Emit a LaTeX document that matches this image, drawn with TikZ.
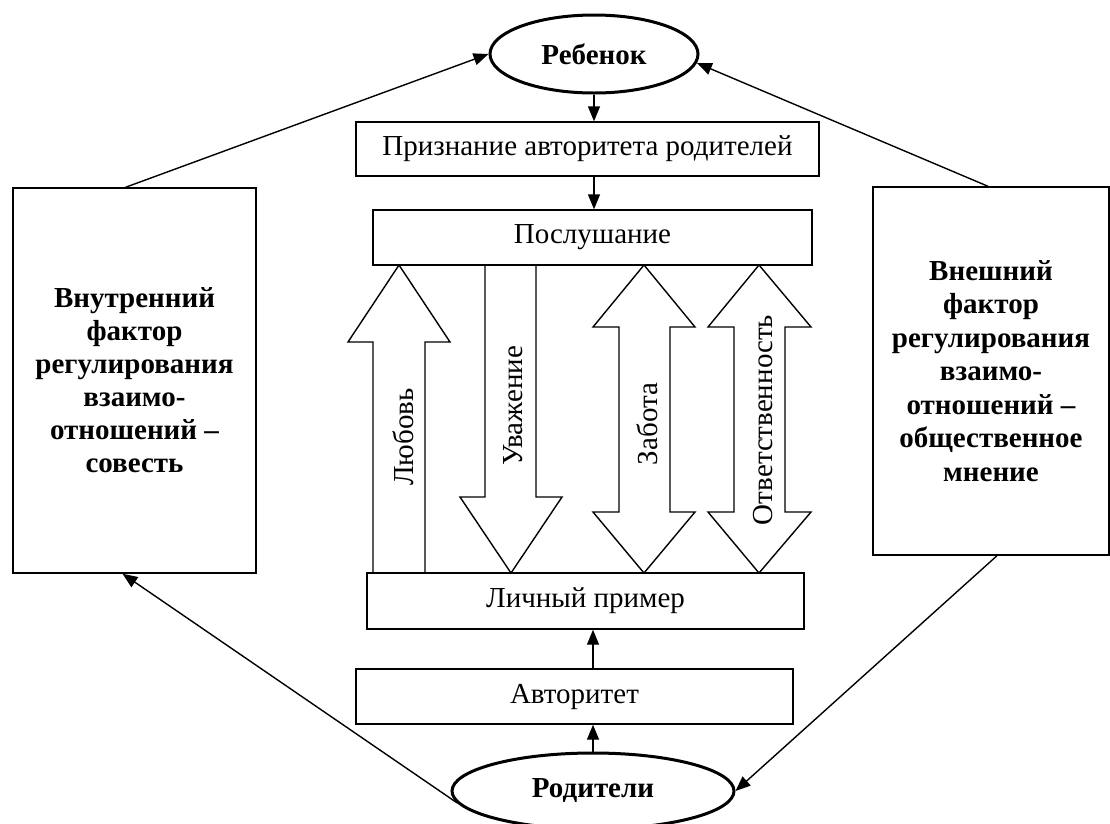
\documentclass[tikz,border=0pt]{standalone}
\usepackage{fontspec}
\setmainfont{Liberation Serif}
\usetikzlibrary{shapes.geometric,arrows.meta,calc}
\tikzset{
  boxn/.style={draw, line width=1.4pt, inner sep=0pt, font=\fontsize{29}{33}\selectfont},
  elln/.style={ellipse, draw, line width=3pt, inner sep=0pt, font=\fontsize{29}{33}\selectfont\bfseries},
  siden/.style={draw, line width=1.4pt, inner sep=0pt, align=center, font=\fontsize{29}{33}\selectfont\bfseries},
  conn/.style={-{Triangle[length=15pt,width=12pt]}, line width=1.4pt},
  bigar/.style={draw, line width=1.4pt, fill=white, line join=miter},
  biglabel/.style={rotate=90, inner sep=0pt, font=\fontsize{29}{33}\selectfont}
}
\begin{document}
\begin{tikzpicture}[x=1pt,y=-1pt]
\useasboundingbox (0,0) rectangle (1110,823);
% big arrows (drawn first so box borders lie on top)
\draw[bigar] (373,573) -- (373,342) -- (348,342) -- (399,265) -- (450,342) -- (425,342) -- (425,573);
\node[biglabel] (lub) at (403,437) {Любовь};
\draw[bigar] (485,265) -- (485,497) -- (460,497) -- (511,573) -- (562,497) -- (536,497) -- (536,265);
\node[biglabel] (uva) at (513,406) {Уважение};
\draw[bigar] (644,265) -- (695,327) -- (670,327) -- (670,512) -- (695,512) -- (644,573) -- (593,512) -- (619,512) -- (619,327) -- (593,327) -- cycle;
\node[biglabel] (zab) at (647,424) {Забота};
\draw[bigar] (759,265) -- (811,327) -- (785,327) -- (785,512) -- (811,512) -- (759,573) -- (708,512) -- (734,512) -- (734,327) -- (708,327) -- cycle;
\node[biglabel] (otv) at (763,420) {Ответственность};
% ellipses
\node[elln, minimum width=208pt, minimum height=78pt] (reb) at (594,54) {Ребенок};
\node[elln, minimum width=282pt, minimum height=76pt] (rod) at (593,791) {Родители};
% central boxes
\node[boxn, minimum width=463pt, minimum height=54pt] (priz) at (587.5,149) {Признание авторитета родителей};
\node[boxn, minimum width=439pt, minimum height=55pt] (posl) at (592.5,237.5) {Послушание};
\node[boxn, minimum width=437pt, minimum height=56pt] (lich) at (585.5,601) {Личный пример};
\node[boxn, minimum width=437pt, minimum height=55pt] (avt) at (574.5,696.5) {Авторитет};
% side boxes
\node[siden, minimum width=243pt, minimum height=385pt] (lbox) at (134.5,380.5)
  {Внутренний\\фактор\\регулирования\\взаимо-\\отношений –\\совесть};
\node[siden, minimum width=236pt, minimum height=368pt, font=\fontsize{29}{33.5}\selectfont\bfseries] (rbox) at (991,371)
  {Внешний\\фактор\\регулирования\\взаимо-\\отношений –\\общественное\\мнение};
% vertical connectors
\draw[conn] (reb.south) -- (reb.south |- priz.north);
\draw[conn] (reb.south |- priz.south) -- (reb.south |- posl.north);
\draw[conn] (rod.north |- avt.north) -- (rod.north |- lich.south);
\draw[conn] (rod.north) -- (rod.north |- avt.south);
% diagonal connectors
\draw[conn] ([xshift=-9pt]lbox.north) -- (reb.west);
\draw[conn] ([xshift=-3pt]rbox.north) -- (reb.-5);
\draw[conn] (rod.185) -- ([xshift=-12pt]lbox.south);
\draw[conn] ([xshift=6pt]rbox.south) -- (rod.east);
\end{tikzpicture}
\end{document}
